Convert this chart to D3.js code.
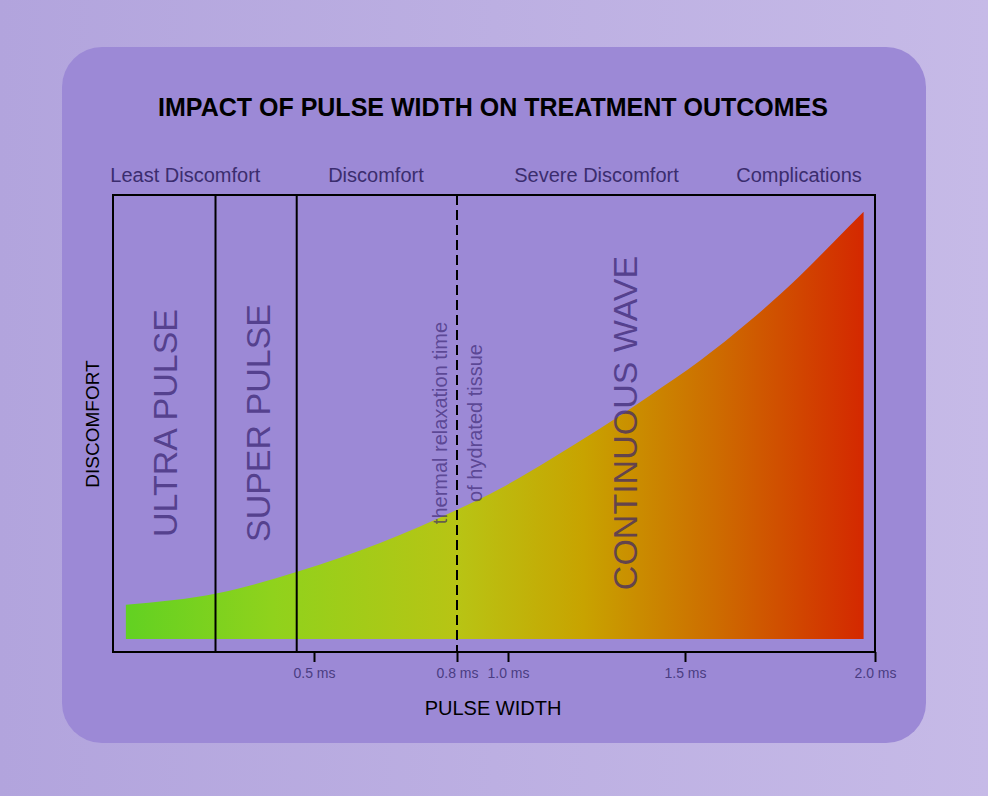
<!DOCTYPE html>
<html>
<head>
<meta charset="utf-8">
<script src="https://cdn.jsdelivr.net/npm/d3@7"></script>
<style>
  html, body { margin: 0; padding: 0; }
  body { width: 988px; height: 796px; overflow: hidden; }
</style>
</head>
<body>
<div id="chart"></div>
<script>
// curve samples: pulse width (ms) and relative discomfort
const pulseMs    = [0.032, 0.26, 0.46, 0.64, 0.8, 0.97, 1.12, 1.26, 1.40, 1.54, 1.67, 1.80, 1.89, 1.97];
const discomfort = [7.7, 10.3, 15.2, 21.7, 29.1, 33.9, 40.5, 47.4, 54.8, 62.7, 71.6, 81.6, 89.3, 96.2];

const tickMs = [0.5, 0.8, 1.0, 1.5, 2.0];
const zoneLabels = ["Least Discomfort", "Discomfort", "Severe Discomfort", "Complications"];
const zoneCenters = [0.18, 0.63, 1.25, 1.80];
const modeNames = ["ULTRA PULSE", "SUPER PULSE", "CONTINUOUS WAVE"];
const modeCenters = [0.13, 0.36, 1.33];
const modeBounds = [0.255, 0.457];
const relaxMs = 0.8;
const relaxText = ["thermal relaxation time", "of hydrated tissue"];

const W = 988, H = 796;
const plotL = 113, plotR = 875, plotT = 195, plotB = 652;
const font = "'Liberation Sans', Arial, sans-serif";

let svg = d3.select("#chart").append("svg")
  .attr("width", W).attr("height", H);

let defs = svg.append("defs");
let bg = defs.append("linearGradient").attr("id", "bg")
  .attr("x1", "0%").attr("x2", "100%").attr("y1", "0%").attr("y2", "0%");
bg.append("stop").attr("offset", "0%").attr("stop-color", "#b2a4dd");
bg.append("stop").attr("offset", "100%").attr("stop-color", "#c6bae7");

svg.append("rect").attr("width", W).attr("height", H).attr("fill", "url(#bg)");
svg.append("rect")
  .attr("x", 62).attr("y", 47).attr("width", 864).attr("height", 696)
  .attr("rx", 40).attr("fill", "#9c89d6");

// x scale is not even between ticks in the original, so piecewise
let x = d3.scaleLinear()
  .domain([0, 0.5, 0.8, 1.0, 1.5, 2.0])
  .range([plotL, 314, 457, 508, 685, plotR]);
let y = d3.scaleLinear().domain([0, 100]).range([639, plotT]);

let data = pulseMs.map((d, i) => ({ms: d, v: discomfort[i]}));

let grad = defs.append("linearGradient").attr("id", "heat")
  .attr("gradientUnits", "userSpaceOnUse")
  .attr("x1", x(pulseMs[0])).attr("x2", x(pulseMs[pulseMs.length - 1]))
  .attr("y1", 0).attr("y2", 0);
[["0", "#62d122"], ["0.2", "#90d21c"], ["0.45", "#b8c414"], ["0.62", "#c8a300"],
 ["0.8", "#cd6c00"], ["1", "#d42800"]].forEach(s => {
  grad.append("stop").attr("offset", s[0]).attr("stop-color", s[1]);
});

let area = d3.area()
  .x(d => x(d.ms))
  .y0(y(0))
  .y1(d => y(d.v))
  .curve(d3.curveMonotoneX);

svg.append("path").datum(data)
  .attr("d", area)
  .attr("fill", "url(#heat)");

// title
svg.append("text")
  .attr("x", 493).attr("y", 116)
  .attr("text-anchor", "middle")
  .attr("font-family", font).attr("font-weight", "bold").attr("font-size", 25)
  .attr("fill", "#000")
  .text("IMPACT OF PULSE WIDTH ON TREATMENT OUTCOMES");

// zone labels above the box
svg.selectAll(".zone").data(zoneLabels).enter()
  .append("text")
    .attr("class", "zone")
    .attr("x", (d, i) => x(zoneCenters[i]))
    .attr("y", 182)
    .attr("text-anchor", "middle")
    .attr("font-family", font).attr("font-size", 20)
    .attr("fill", "#3b2d6e")
    .text(d => d);

// mode labels
svg.selectAll(".mode").data(modeNames).enter()
  .append("text")
    .attr("class", "mode")
    .attr("transform", (d, i) => "translate(" + x(modeCenters[i]) + ",423) rotate(-90)")
    .attr("text-anchor", "middle")
    .attr("dominant-baseline", "central")
    .attr("font-family", font).attr("font-size", 34)
    .attr("fill", "#36216e").attr("fill-opacity", 0.7)
    .text(d => d);

// relaxation note
svg.selectAll(".relax").data(relaxText).enter()
  .append("text")
    .attr("class", "relax")
    .attr("transform", (d, i) => "translate(" + (x(relaxMs) + (i == 0 ? -17 : 18)) + ",423) rotate(-90)")
    .attr("text-anchor", "middle")
    .attr("dominant-baseline", "central")
    .attr("font-family", font).attr("font-size", 20)
    .attr("fill", "#36216e").attr("fill-opacity", 0.65)
    .text(d => d);

// boundaries
svg.selectAll(".bound").data(modeBounds).enter()
  .append("line")
    .attr("class", "bound")
    .attr("x1", d => x(d)).attr("x2", d => x(d))
    .attr("y1", plotT).attr("y2", plotB)
    .attr("stroke", "#000").attr("stroke-width", 2);

svg.append("line")
  .attr("x1", x(relaxMs)).attr("x2", x(relaxMs))
  .attr("y1", plotT).attr("y2", plotB)
  .attr("stroke", "#000").attr("stroke-width", 2)
  .attr("stroke-dasharray", "10,5");

svg.append("rect")
  .attr("x", plotL).attr("y", plotT)
  .attr("width", plotR - plotL).attr("height", plotB - plotT)
  .attr("fill", "none").attr("stroke", "#000").attr("stroke-width", 2);

// axis
let axis = svg.append("g")
  .attr("transform", "translate(0," + plotB + ")")
  .call(d3.axisBottom(x)
    .tickValues(tickMs)
    .tickSize(10)
    .tickPadding(6)
    .tickFormat(d => d3.format(".1f")(d) + " ms"));
axis.select(".domain").remove();
axis.selectAll(".tick line").attr("stroke", "#000").attr("stroke-width", 2);
axis.selectAll(".tick text")
  .attr("font-family", font).attr("font-size", 14)
  .attr("fill", "#4a3d82");

// axis titles
svg.append("text")
  .attr("x", 493).attr("y", 715)
  .attr("text-anchor", "middle")
  .attr("font-family", font).attr("font-size", 20)
  .attr("fill", "#000")
  .text("PULSE WIDTH");

svg.append("text")
  .attr("transform", "translate(92,424) rotate(-90)")
  .attr("text-anchor", "middle")
  .attr("dominant-baseline", "central")
  .attr("font-family", font).attr("font-size", 19)
  .attr("fill", "#000")
  .text("DISCOMFORT");
</script>
</body>
</html>
